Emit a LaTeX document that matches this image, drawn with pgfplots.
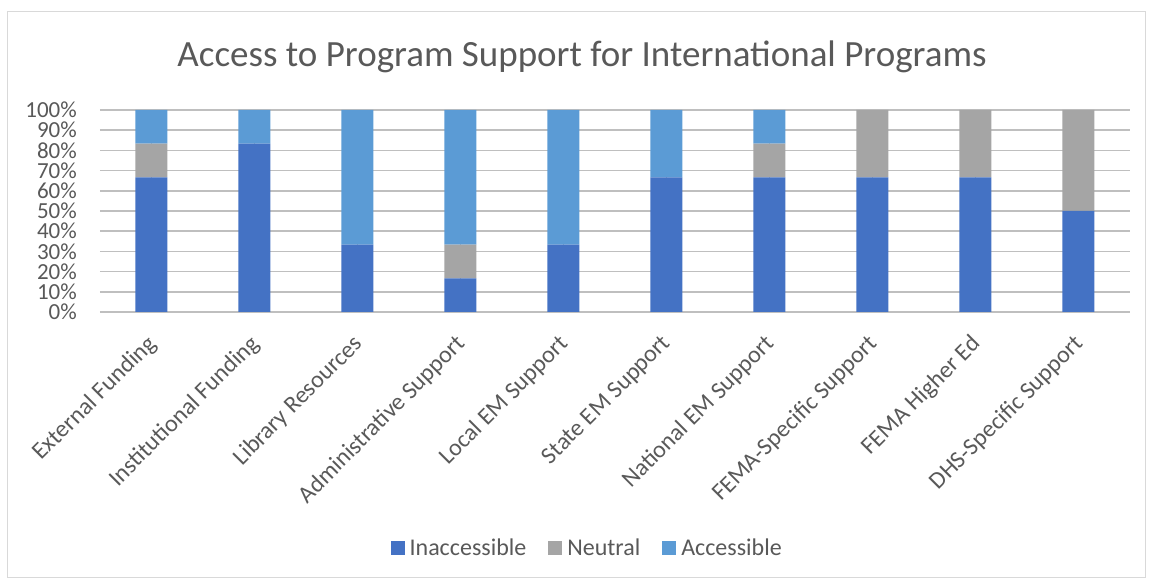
\documentclass[border=0pt]{standalone}
\usepackage{pgfplots}
\pgfplotsset{compat=1.18}
\usepackage{fontspec}
\setmainfont{Carlito}
\definecolor{inacc}{HTML}{4472C4}
\definecolor{neut}{HTML}{A5A5A5}
\definecolor{acc}{HTML}{5B9BD5}
\definecolor{txt}{HTML}{595959}
\definecolor{grid}{HTML}{D9D9D9}
\begin{document}
\begin{tikzpicture}[x=1pt,y=1pt]
\path (0,0) rectangle (1152,583);
\draw[draw=grid, line width=0.8pt] (7,6) rectangle (1145,572);
\begin{axis}[
  at={(100pt,271pt)}, anchor=south west,
  scale only axis, width=1030pt, height=202pt,
  ybar stacked, bar width=32pt,
  xmin=-0.5, xmax=9.5, ymin=0, ymax=100,
  xtick={0,...,9},
  xticklabels={External Funding, Institutional Funding, Library Resources, Administrative Support, Local EM Support, State EM Support, National EM Support, FEMA-Specific Support, FEMA Higher Ed, DHS-Specific Support},
  ytick={0,10,...,100},
  yticklabel={\pgfmathprintnumber{\tick}\%},
  /pgf/number format/assume math mode=true,
  tick style={draw=none},
  axis line style={draw=none},
  ymajorgrids, major grid style={grid, line width=1.5pt},
  ticklabel style={text=txt},
  yticklabel style={font=\fontsize{23}{25}\selectfont, inner sep=0pt, xshift=-23pt},
  xticklabel style={font=\fontsize{24}{26}\selectfont, anchor=north east, inner sep=0pt, xshift=-6pt, yshift=-21pt, rotate=45},
  title={Access to Program Support for International Programs},
  title style={font=\fontsize{37}{40}\selectfont, text=txt, at={(0.468,1.232)}, anchor=center},
  legend style={draw=none, at={(0.473,-1.168)}, anchor=center, legend columns=-1,
    font=\fontsize{24}{26}\selectfont, text=txt,
    /tikz/every odd column/.append style={column sep=3pt},
    /tikz/every even column/.append style={column sep=20pt}},
  legend image code/.code={\fill[#1] (0pt,-7pt) rectangle (14pt,7pt);},
]
\addplot[fill=inacc, draw=none] coordinates {(0,66.67) (1,83.33) (2,33.33) (3,16.67) (4,33.33) (5,66.67) (6,66.67) (7,66.67) (8,66.67) (9,50)};
\addplot[fill=neut, draw=none] coordinates {(0,16.67) (1,0) (2,0) (3,16.67) (4,0) (5,0) (6,16.67) (7,33.33) (8,33.33) (9,50)};
\addplot[fill=acc, draw=none] coordinates {(0,16.67) (1,16.67) (2,66.67) (3,66.67) (4,66.67) (5,33.33) (6,16.67) (7,0) (8,0) (9,0)};
\legend{Inaccessible, Neutral, Accessible}
\end{axis}
\end{tikzpicture}
\end{document}
